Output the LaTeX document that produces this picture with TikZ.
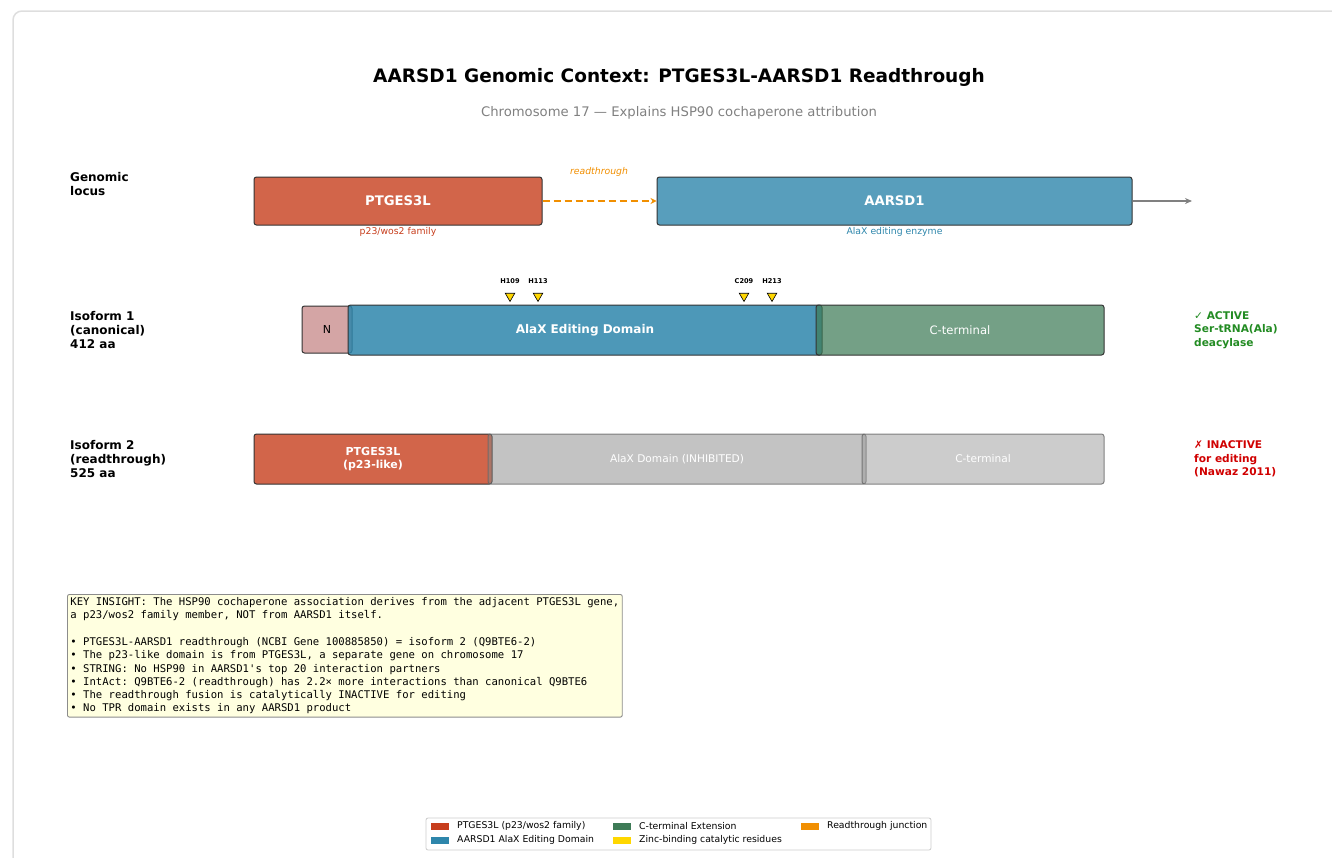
\documentclass[tikz,border=0pt]{standalone}
\usepackage{fontspec}
\setmainfont{DejaVu Sans}
\setmonofont{DejaVu Sans Mono}
\usetikzlibrary{shapes.geometric,arrows.meta}

\definecolor{ptgred}{HTML}{C73E1D}
\definecolor{alaxblue}{HTML}{2E86AB}
\definecolor{ctermgreen}{HTML}{3E7B57}
\definecolor{rtorange}{HTML}{F18F01}
\definecolor{zincgold}{HTML}{FFD700}
\definecolor{edgegray}{HTML}{333333}
\definecolor{npink}{HTML}{D4A5A5}
\definecolor{activegreen}{HTML}{228B22}
\definecolor{inactivered}{HTML}{D00000}
\definecolor{notebg}{HTML}{FFFFE0}

\tikzset{
  segbox/.style={draw=edgegray, line width=1pt, rounded corners=2.5pt, inner sep=0pt, minimum height=48pt, text opacity=1},
  dimmed/.style={segbox, fill=black!47, fill opacity=0.5, draw=black!60, draw opacity=0.8, text=white, font=\fontsize{10.6}{12}\selectfont},
  rowlabel/.style={anchor=west, align=left, inner sep=0pt, font=\fontsize{12}{13.8}\selectfont\bfseries},
  verdict/.style={anchor=west, align=left, inner sep=0pt, font=\fontsize{10.6}{13.4}\selectfont\bfseries},
  sublabel/.style={font=\fontsize{9.3}{11}\selectfont},
  zinc/.style={regular polygon, regular polygon sides=3, shape border rotate=180, draw=black, line width=0.6pt, fill=zincgold, minimum size=11pt, inner sep=0pt},
  resname/.style={font=\fontsize{6.6}{8}\selectfont\bfseries},
  keypatch/.style={fill=#1, minimum width=18pt, minimum height=7pt, inner sep=0pt},
  keytext/.style={anchor=west, inner sep=0pt, font=\fontsize{9.3}{10}\selectfont},
}

\begin{document}
\begin{tikzpicture}[x=1pt,y=1pt,yscale=-1,xscale=1]
\useasboundingbox (0,0) rectangle (1332,857);

%Shape: outer card
\draw [black!13, line width=1.5pt, rounded corners=9pt] (13,880) -- (13,11) -- (1350,11);

% Title
\node [font=\fontsize{18.5}{22}\selectfont\bfseries] (title) at (679,77) {AARSD1 Genomic Context: PTGES3L-AARSD1 Readthrough};
\node [font=\fontsize{13.2}{15}\selectfont, text=black!50] (subtitle) at (679,112.5) {Chromosome 17 — Explains HSP90 cochaperone attribution};

% Row labels
\node [rowlabel] (lblLocus) at (70,184) {Genomic\\locus};
\node [rowlabel] (lblIso1) at (70,330) {Isoform 1\\(canonical)\\412 aa};
\node [rowlabel] (lblIso2) at (70,459) {Isoform 2\\(readthrough)\\525 aa};

%Shape: genomic locus
\node [segbox, fill=ptgred, fill opacity=0.8, minimum width=288pt, text=white, font=\fontsize{13.2}{15}\selectfont\bfseries] (locPtg) at (398,201) {PTGES3L};
\node [segbox, fill=alaxblue, fill opacity=0.8, minimum width=475pt, text=white, font=\fontsize{13.2}{15}\selectfont\bfseries] (locAarsd) at (894.5,201) {AARSD1};
\coordinate (locEnd) at (1192,201);
\draw [rtorange, line width=2pt, dash pattern=on 7pt off 4pt, -{Stealth[length=6pt,width=6pt]}] (locPtg.east) -- (locAarsd.west);
\draw [black!50, line width=1.5pt, -{Stealth[length=7pt,width=6pt]}] (locAarsd.east) -- (locEnd);
\node [sublabel, text=rtorange, font=\fontsize{9.3}{11}\selectfont\itshape] (rtLabel) at (599,172) {readthrough};
\node [sublabel, text=ptgred] (ptgNote) at (398,232) {p23/wos2 family};
\node [sublabel, text=alaxblue] (aarsdNote) at (894.5,232) {AlaX editing enzyme};

%Shape: isoform 1
\node [segbox, fill=npink, minimum width=50pt, minimum height=47pt, font=\fontsize{11}{13}\selectfont] (isoN) at (327,329.5) {N};
\node [segbox, fill=alaxblue, fill opacity=0.85, minimum width=474pt, minimum height=50pt, text=white, font=\fontsize{12}{14}\selectfont\bfseries] (isoAlax) at (585,330) {AlaX Editing Domain};
\node [segbox, fill=ctermgreen, fill opacity=0.72, minimum width=288pt, minimum height=50pt, text=white, font=\fontsize{11.6}{14}\selectfont] (isoCterm) at (960,330) {C-terminal};

% zinc-binding residues
\node [zinc] (zH109) at (510,296) {};
\node [zinc] (zH113) at (538,296) {};
\node [zinc] (zC209) at (744,296) {};
\node [zinc] (zH213) at (772,296) {};
\node [resname] (nH109) at (510,281) {H109};
\node [resname] (nH113) at (538,281) {H113};
\node [resname] (nC209) at (744,281) {C209};
\node [resname] (nH213) at (772,281) {H213};

% Text Node
\node [verdict, text=activegreen] (verdictOn) at (1194,330) {{\mdseries ✓} ACTIVE\\Ser-tRNA(Ala)\\deacylase};

%Shape: isoform 2
\node [segbox, fill=ptgred, fill opacity=0.8, minimum width=238pt, minimum height=50pt, text=white, align=center, font=\fontsize{11}{13.4}\selectfont\bfseries] (rtPtg) at (373,459) {PTGES3L\\(p23-like)};
\node [dimmed, minimum width=378pt, minimum height=50pt] (rtAlax) at (677,459) {AlaX Domain (INHIBITED)};
\node [dimmed, fill=black!40, minimum width=242pt, minimum height=50pt] (rtCterm) at (983,459) {C-terminal};

% Text Node
\node [verdict, text=inactivered] (verdictOff) at (1194,459) {{\mdseries ✗} INACTIVE\\for editing\\(Nawaz 2011)};

%Shape: key insight note
\node [anchor=north west, draw=black!45, line width=0.9pt, fill=notebg, rounded corners=2pt, inner xsep=3pt, inner ysep=3pt, align=left, font=\fontsize{10.6}{13.3}\selectfont\ttfamily] (insight) at (67,594) {KEY INSIGHT: The HSP90 cochaperone association derives from the adjacent PTGES3L gene,\\
a p23/wos2 family member, NOT from AARSD1 itself.\\
\mbox{}\\
• PTGES3L-AARSD1 readthrough (NCBI Gene 100885850) = isoform 2 (Q9BTE6-2)\\
• The p23-like domain is from PTGES3L, a separate gene on chromosome 17\\
• STRING: No HSP90 in AARSD1's top 20 interaction partners\\
• IntAct: Q9BTE6-2 (readthrough) has 2.2× more interactions than canonical Q9BTE6\\
• The readthrough fusion is catalytically INACTIVE for editing\\
• No TPR domain exists in any AARSD1 product};

%Shape: legend
\draw [black!20, line width=0.8pt, fill=white, rounded corners=2pt] (426,818) rectangle (931,850);
\node [keypatch=ptgred] (kPtg) at (440,826) {};
\node [keytext] (tPtg) at (457,826) {PTGES3L (p23/wos2 family)};
\node [keypatch=alaxblue] (kAlax) at (440,840) {};
\node [keytext] (tAlax) at (457,840) {AARSD1 AlaX Editing Domain};
\node [keypatch=ctermgreen] (kCterm) at (622,826) {};
\node [keytext] (tCterm) at (639,826) {C-terminal Extension};
\node [keypatch=zincgold] (kZinc) at (622,840) {};
\node [keytext] (tZinc) at (639,840) {Zinc-binding catalytic residues};
\node [keypatch=rtorange] (kRt) at (810,826) {};
\node [keytext] (tRt) at (827,826) {Readthrough junction};
\end{tikzpicture}
\end{document}
